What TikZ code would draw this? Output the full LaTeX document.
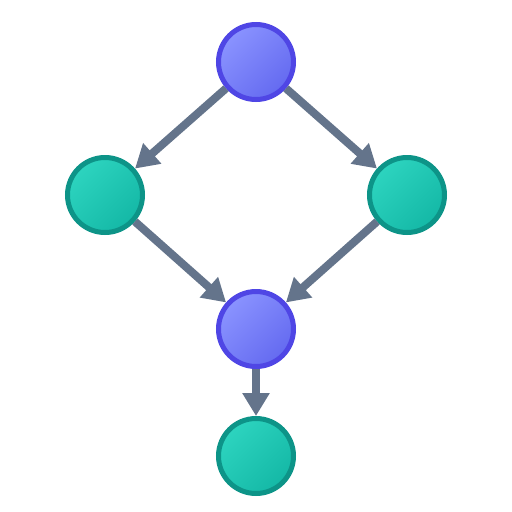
\documentclass[tikz,border=0pt]{standalone}
\usetikzlibrary{arrows.meta}
\definecolor{purfill1}{HTML}{8A93FF}
\definecolor{purfill2}{HTML}{646AF0}
\definecolor{purdraw}{HTML}{4F46E5}
\definecolor{tealfill1}{HTML}{2DD4BF}
\definecolor{tealfill2}{HTML}{14B8A6}
\definecolor{tealdraw}{HTML}{0D9488}
\definecolor{arrowc}{HTML}{64748B}
\begin{document}
\begin{tikzpicture}[x=1pt,y=-1pt,
  pnode/.style={circle, inner sep=0pt, minimum size=75pt, line width=5pt, draw=purdraw, top color=purfill1, bottom color=purfill2, shading angle=45},
  tnode/.style={circle, inner sep=0pt, minimum size=75pt, line width=5pt, draw=tealdraw, top color=tealfill1, bottom color=tealfill2, shading angle=45},
  conn/.style={draw=arrowc, line width=8pt, -{Triangle[length=23pt,width=26pt]}}]
\useasboundingbox[fill=white] (0,0) rectangle (512,512);
\node[pnode] (a) at (256,62) {};
\node[tnode] (b) at (105,195) {};
\node[tnode] (c) at (407,195) {};
\node[pnode] (d) at (256,329) {};
\node[tnode] (e) at (256,456) {};
\draw[conn] (a) -- (b);
\draw[conn] (a) -- (c);
\draw[conn] (b) -- (d);
\draw[conn] (c) -- (d);
\draw[conn] (d) -- (e);
\end{tikzpicture}
\end{document}
